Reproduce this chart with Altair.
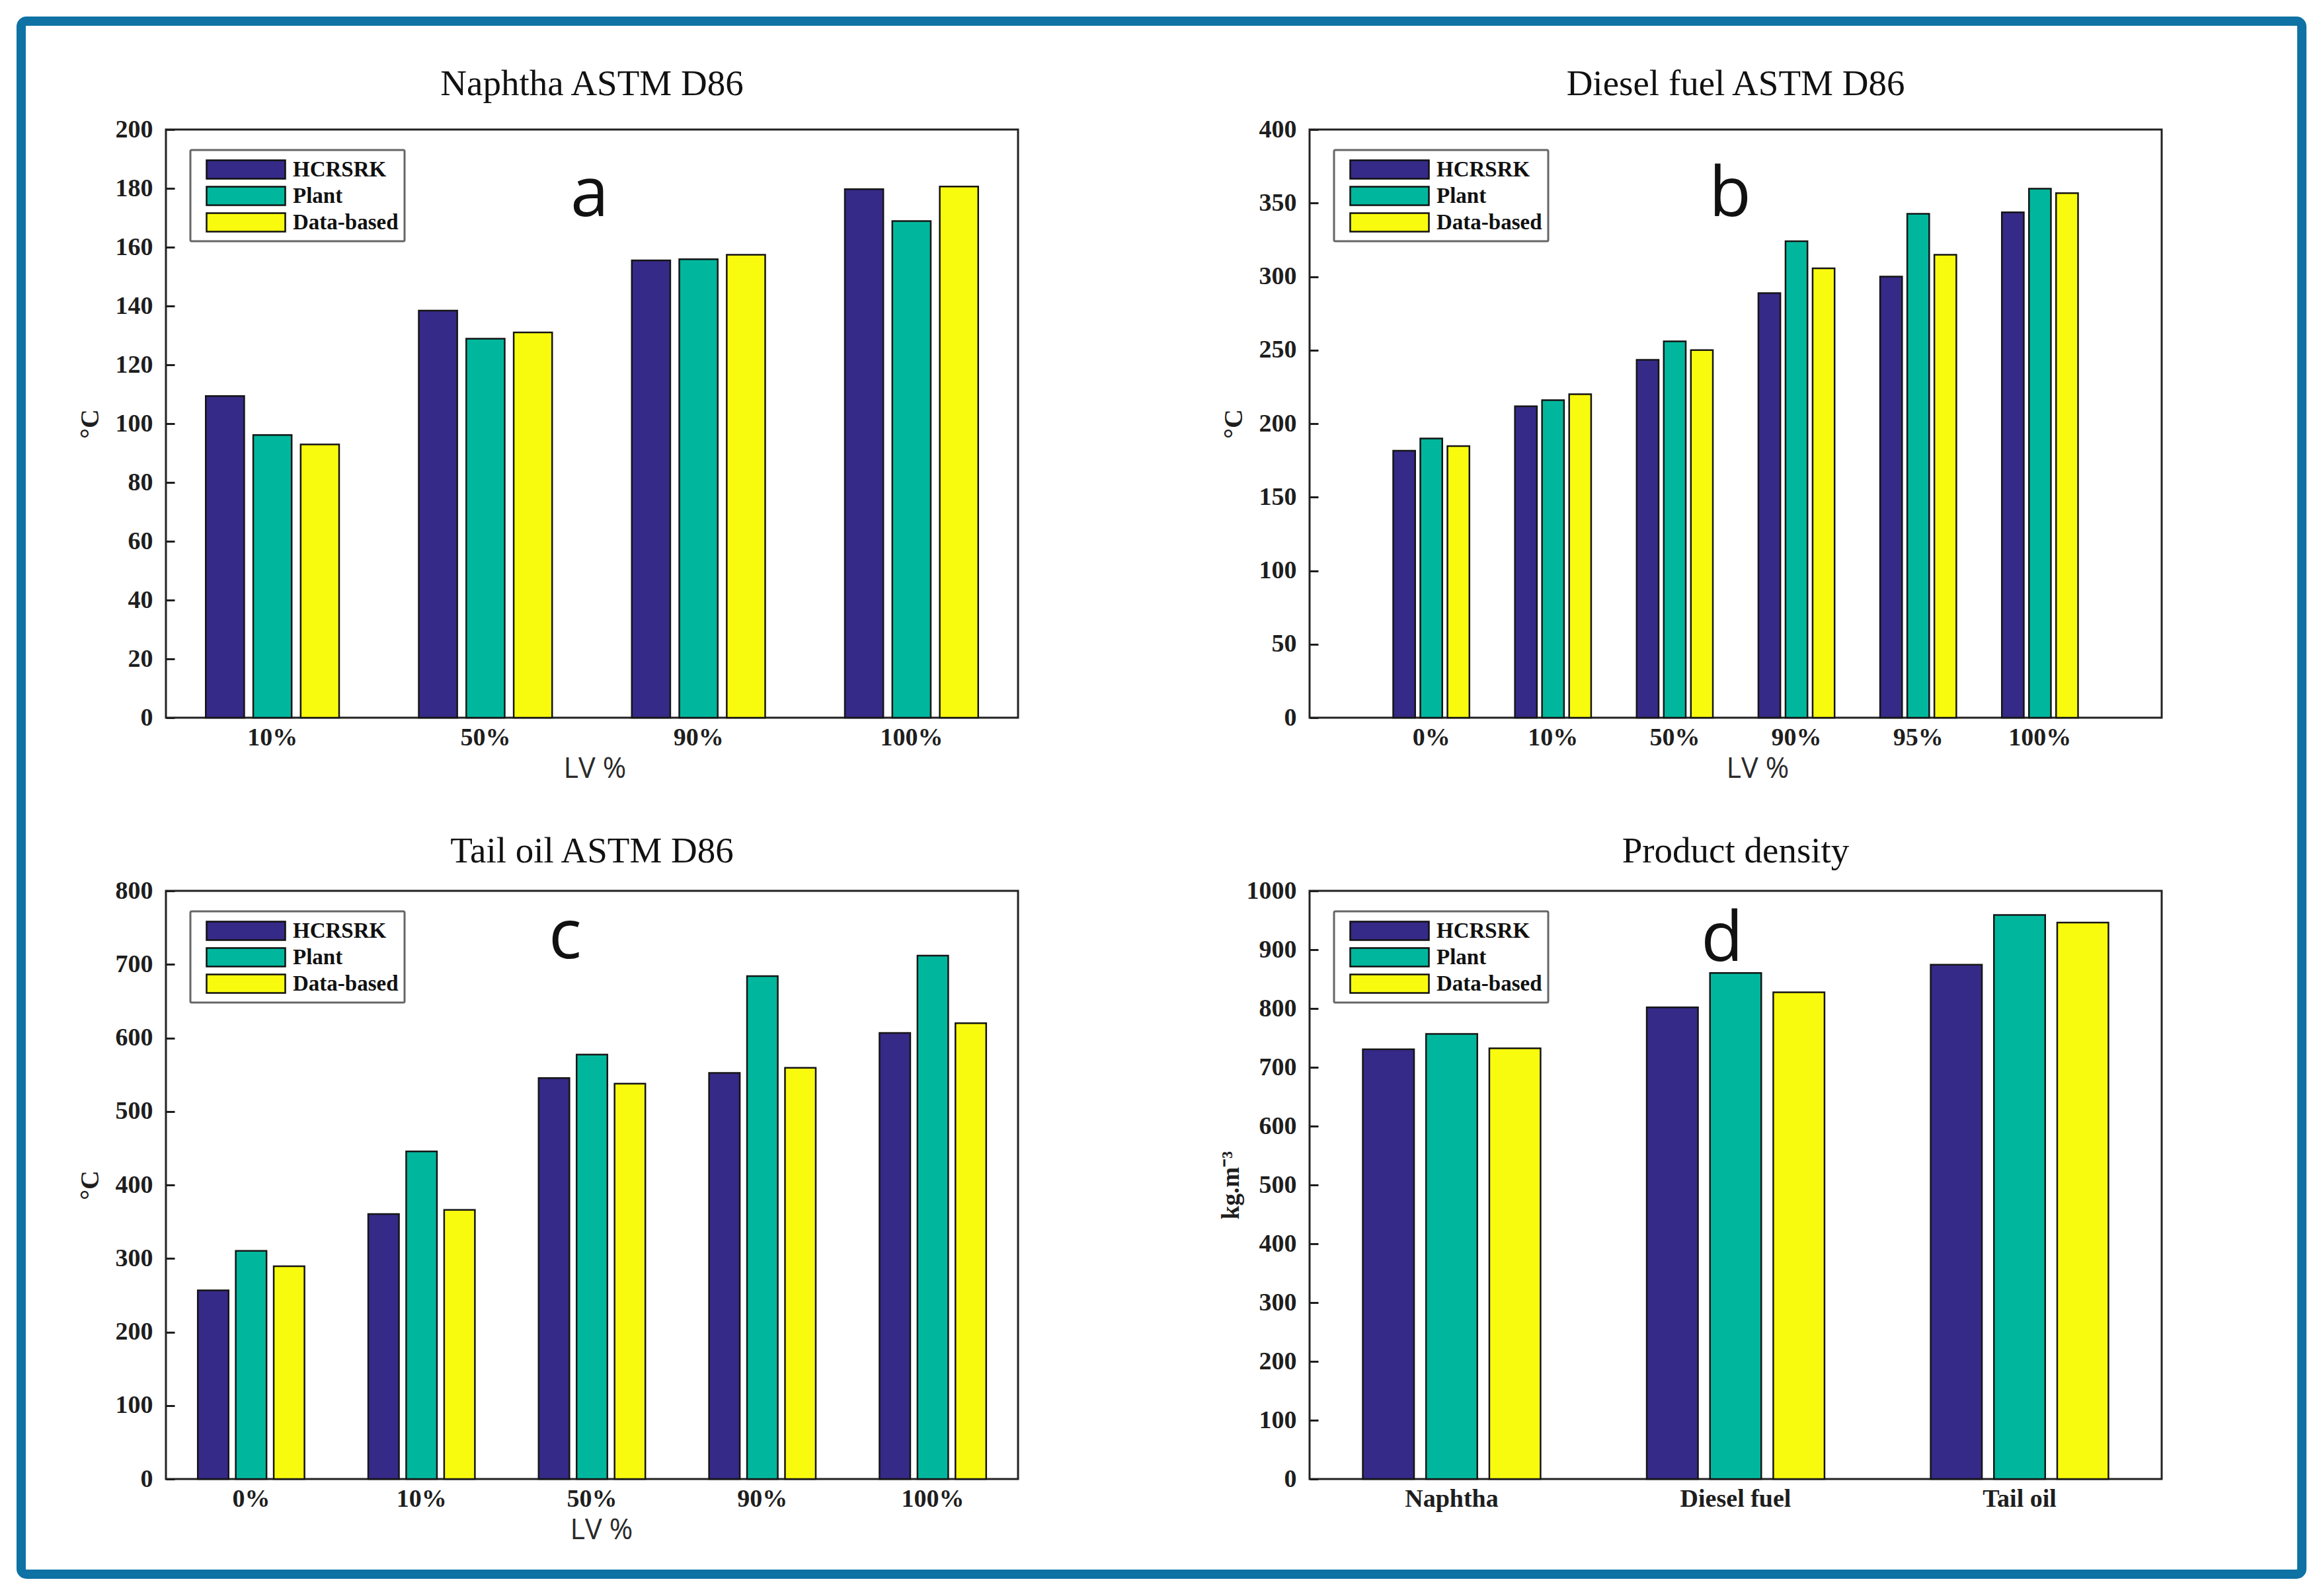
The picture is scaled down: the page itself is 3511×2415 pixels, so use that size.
import altair as alt
import pandas as pd

# ---------------- data ----------------
SERIES = ["HCRSRK", "Plant", "Data-based"]
COLORS = ["#352a87", "#00b79d", "#f9fb0e"]

cats_a = ["10%", "50%", "90%", "100%"]
a_hcrsrk = [109.4, 138.4, 155.5, 179.7]
a_plant = [96.1, 128.9, 155.9, 168.9]
a_data = [92.9, 131.0, 157.4, 180.6]
ticks_a = [0, 20, 40, 60, 80, 100, 120, 140, 160, 180, 200]

cats_b = ["0%", "10%", "50%", "90%", "95%", "100%"]
b_hcrsrk = [181.6, 211.8, 243.4, 288.8, 300.0, 343.7]
b_plant = [189.9, 216.0, 256.0, 324.0, 342.7, 359.8]
b_data = [184.7, 220.0, 250.0, 305.6, 314.8, 356.7]
ticks_b = [0, 50, 100, 150, 200, 250, 300, 350, 400]

cats_c = ["0%", "10%", "50%", "90%", "100%"]
c_hcrsrk = [256.6, 360.5, 545.3, 552.3, 606.7]
c_plant = [310.3, 445.6, 577.4, 684.1, 712.0]
c_data = [289.4, 366.0, 537.7, 559.3, 620.0]
ticks_c = [0, 100, 200, 300, 400, 500, 600, 700, 800]

cats_d = ["Naphtha", "Diesel fuel", "Tail oil"]
d_hcrsrk = [730.6, 802.0, 874.5]
d_plant = [756.8, 860.5, 959.0]
d_data = [732.3, 827.4, 946.0]
ticks_d = [0, 100, 200, 300, 400, 500, 600, 700, 800, 900, 1000]

titles = ["Naphtha ASTM D86", "Diesel fuel ASTM D86", "Tail oil ASTM D86", "Product density"]
letters = ["a", "b", "c", "d"]

# ---------------- style ----------------
SERIF = "Liberation Serif"
SANS = "Open Sans"
W, H = 1289, 890
INK = "#1e1e1e"


def make_df(cats, h, p, d):
    rows = []
    for i, c in enumerate(cats):
        for s, vals in zip(SERIES, (h, p, d)):
            rows.append({"cat": c, "series": s, "value": vals[i]})
    return pd.DataFrame(rows)


def panel(df, cats, title, title_y, ytitle, ytitle_size, yticks, xtitle, xtitle_dx, pad_outer,
          letter, lx, ly, ytitle_pad, extra=None):
    bars = alt.Chart(df).mark_bar(stroke="#151515", strokeWidth=2.5, opacity=1).encode(
        x=alt.X(
            "cat:N", sort=cats,
            scale=alt.Scale(paddingInner=0.374, paddingOuter=pad_outer),
            axis=alt.Axis(
                title=xtitle, titleX=W / 2 + xtitle_dx, labelAngle=0, ticks=False, tickSize=0,
                domain=False, labelPadding=11, labelFont=SERIF, labelFontSize=38,
                labelFontWeight="bold", labelColor=INK, titleFont=SANS, titleFontSize=43,
                titleFontWeight="normal", titlePadding=7, titleColor="#2a2a2a",
            ),
        ),
        xOffset=alt.XOffset("series:N", sort=SERIES,
                            scale=alt.Scale(paddingInner=0.19, paddingOuter=0)),
        y=alt.Y(
            "value:Q",
            scale=alt.Scale(domain=[yticks[0], yticks[-1]], nice=False),
            axis=alt.Axis(
                title=ytitle, values=yticks, format="d", grid=False, domain=False, ticks=True,
                tickSize=13, tickWidth=3, tickColor=INK, offset=-13, labelPadding=20,
                labelFont=SERIF, labelFontSize=38, labelFontWeight="bold", labelColor=INK,
                labelOverlap=False, titleFont=SERIF, titleFontSize=ytitle_size,
                titleFontWeight="bold", titleColor=INK, titlePadding=ytitle_pad,
            ),
        ),
        color=alt.Color(
            "series:N", sort=SERIES,
            scale=alt.Scale(domain=SERIES, range=COLORS),
            legend=alt.Legend(
                title=None, orient="none", legendX=37, legendY=31,
                symbolType="M-0.263,-0.737L6.0,-0.737L6.0,0.737L-0.263,0.737Z", symbolSize=1444,
                symbolStrokeColor="#111111", symbolStrokeWidth=2.5, symbolOpacity=1,
                labelFont=SERIF, labelFontSize=33, labelFontWeight="bold", labelColor="#111111",
                labelOffset=105, rowPadding=0, padding=9, labelLimit=400,
                strokeColor="#666666", fillColor="white", cornerRadius=2,
            ),
        ),
    )
    one = alt.Data(values=[{}])
    letter_mark = alt.Chart(one).mark_text(
        text=letter, font=SANS, fontSize=104, align="center", baseline="alphabetic", color="#111111"
    ).encode(x=alt.value(lx), y=alt.value(ly))
    title_mark = alt.Chart(one).mark_text(
        text=title, font=SERIF, fontSize=55, align="center", baseline="alphabetic", color="#111111"
    ).encode(x=alt.value(W / 2), y=alt.value(title_y))
    layers = [bars, letter_mark, title_mark]
    if extra is not None:
        layers.append(extra)
    return alt.layer(*layers).properties(width=W, height=H)


# blue frame around the whole figure (decoration, drawn from panel a's origin)
frame = alt.Chart(alt.Data(values=[{}])).mark_rect(
    fill="transparent", stroke="#0e72a4", strokeWidth=14, cornerRadius=8
).encode(x=alt.value(-219), x2=alt.value(3231), y=alt.value(-164), y2=alt.value(2186))

pa = panel(make_df(cats_a, a_hcrsrk, a_plant, a_data), cats_a, titles[0], -52, "°C", 40, ticks_a,
           "LV %", 4, 0.187, letters[0], 641, 131, 18, extra=frame)
pb = panel(make_df(cats_b, b_hcrsrk, b_plant, b_data), cats_b, titles[1], -52, "°C", 40, ticks_b,
           "LV %", 33, 0.687, letters[1], 636, 131, 18)
pc = panel(make_df(cats_c, c_hcrsrk, c_plant, c_data), cats_c, titles[2], -43, "°C", 40, ticks_c,
           "LV %", 14, 0.187, letters[2], 604, 102, 18)
pd_ = panel(make_df(cats_d, d_hcrsrk, d_plant, d_data), cats_d, titles[3], -43, "kg.m⁻³", 37,
            ticks_d, "", 0, 0.1875, letters[3], 624, 106, 4)

chart = alt.concat(
    pa, pb, pc, pd_, columns=2, bounds="flush", spacing={"row": 262, "column": 441}
).resolve_scale(
    color="independent", x="independent", y="independent", xOffset="independent"
).resolve_legend(color="independent").properties(
    padding={"left": 15, "top": 15, "right": 5, "bottom": 5}, background="white"
).configure_view(stroke="#222222", strokeWidth=3).configure_legend(strokeWidth=3)

chart.save("out.html", embed_options={"renderer": "svg", "actions": False})
